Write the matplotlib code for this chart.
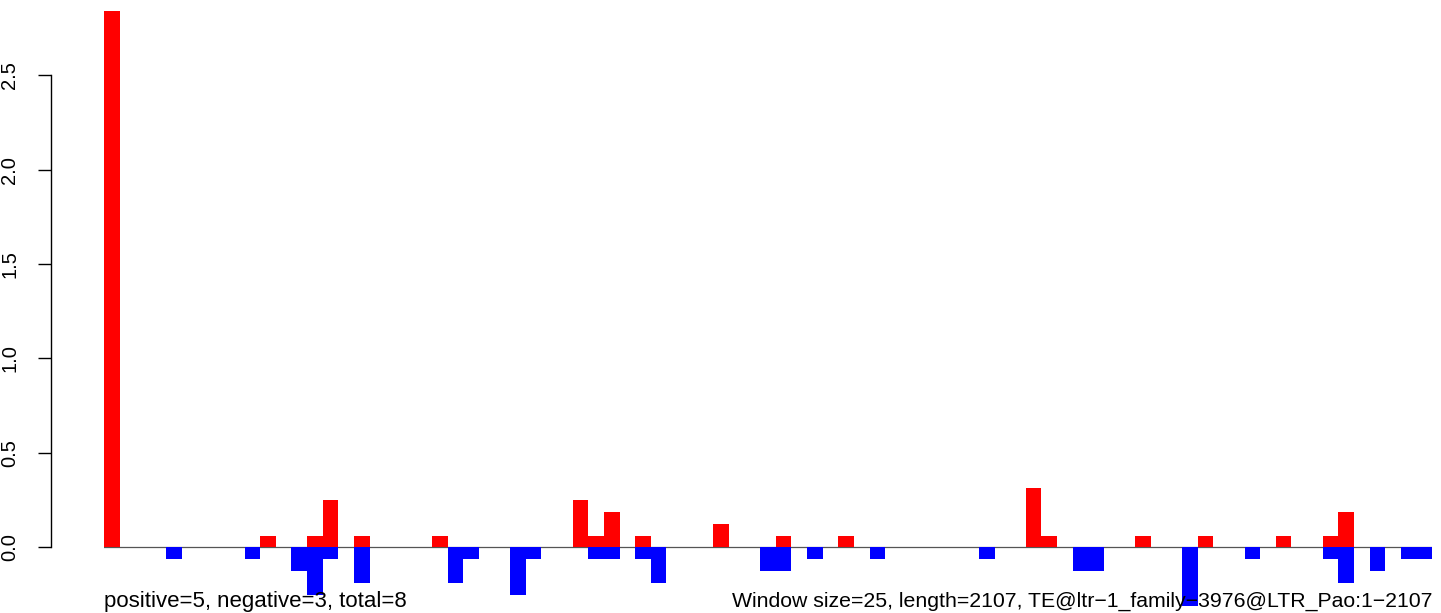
import matplotlib
matplotlib.use("Agg")
import matplotlib.pyplot as plt
import numpy as np

# window values (85 windows of size 25 over length 2107)
positive = [2.84, 0, 0, 0, 0, 0, 0, 0, 0, 0,
            0.0625, 0, 0, 0.0625, 0.25, 0, 0.0625, 0, 0, 0,
            0, 0.0625, 0, 0, 0, 0, 0, 0, 0, 0,
            0.25, 0.0625, 0.1875, 0, 0.0625, 0, 0, 0, 0, 0.125,
            0, 0, 0, 0.0625, 0, 0, 0, 0.0625, 0, 0,
            0, 0, 0, 0, 0, 0, 0, 0, 0, 0.3125,
            0.0625, 0, 0, 0, 0, 0, 0.0625, 0, 0, 0,
            0.0625, 0, 0, 0, 0, 0.0625, 0, 0, 0.0625, 0.1875,
            0, 0, 0, 0, 0]
negative = [0, 0, 0, 0, -0.0625, 0, 0, 0, 0, -0.0625,
            0, 0, -0.125, -0.25, -0.0625, 0, -0.1875, 0, 0, 0,
            0, 0, -0.1875, -0.0625, 0, 0, -0.25, -0.0625, 0, 0,
            0, -0.0625, -0.0625, 0, -0.0625, -0.1875, 0, 0, 0, 0,
            0, 0, -0.125, -0.125, 0, -0.0625, 0, 0, 0, -0.0625,
            0, 0, 0, 0, 0, 0, -0.0625, 0, 0, 0,
            0, 0, -0.125, -0.125, 0, 0, 0, 0, 0, -0.3125,
            0, 0, 0, -0.0625, 0, 0, 0, 0, -0.0625, -0.1875,
            0, -0.125, 0, -0.0625, -0.0625]
y_ticks = [0.0, 0.5, 1.0, 1.5, 2.0, 2.5]
y_tick_labels = ["0.0", "0.5", "1.0", "1.5", "2.0", "2.5"]
left_text = "positive=5, negative=3, total=8"
right_text = "Window size=25, length=2107, TE@ltr\u22121_family\u22123976@LTR_Pao:1\u22122107"

plt.rcParams['font.family'] = ['Liberation Sans', 'DejaVu Sans']

W, H = 1441, 613
fig = plt.figure(figsize=(W / 100, H / 100), dpi=100)
ax = fig.add_axes([104 / W, 0, 1328 / W, 1])
n = len(positive)
x = np.arange(n)

zero_px = 547.3
ppu = 188.8
ax.set_xlim(0, n)
ax.set_ylim(-(H - zero_px) / ppu, zero_px / ppu)

ax.axhline(0, color="#555555", lw=0.9, zorder=1)
ax.bar(x, positive, width=1.0, align="edge", color="#FF0000", linewidth=0, zorder=2)
ax.bar(x, negative, width=1.0, align="edge", color="#0000FF", linewidth=0, zorder=2)

for s in ["top", "right", "bottom"]:
    ax.spines[s].set_visible(False)
ax.spines["left"].set_position(("outward", 53 * 0.72))
ax.spines["left"].set_bounds(0, 2.5)
ax.spines["left"].set_linewidth(1.0)
ax.set_xticks([])
ax.set_yticks(y_ticks)
ax.set_yticklabels(y_tick_labels, rotation=90, va="center", fontsize=14.5)
ax.tick_params(axis="y", length=13 * 0.72, width=1.0, pad=13.5)

fig.text(104 / W, (H - 607.5) / H, left_text, ha="left", va="baseline", fontsize=16, zorder=5)
fig.text(1432 / W, (H - 606.5) / H, right_text, ha="right", va="baseline", fontsize=15.3, zorder=5)

fig.savefig("out.png", dpi=100)
